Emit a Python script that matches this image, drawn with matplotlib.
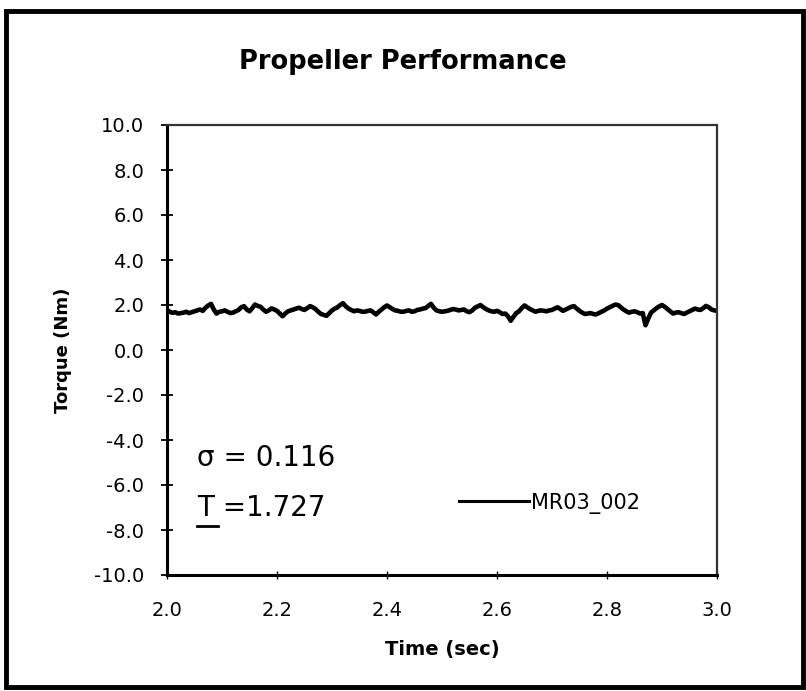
import numpy as np
import matplotlib
matplotlib.use("Agg")
from matplotlib import pyplot as plt
from matplotlib.patches import Rectangle
from matplotlib.lines import Line2D

# torque trace, one value every 0.005 s from 2.000 to 3.000
time_s = [2.0 + 0.005 * k for k in range(201)]
torque = [1.78, 1.70, 1.65, 1.68, 1.62, 1.64, 1.66, 1.70, 1.64, 1.68,
          1.72, 1.76, 1.80, 1.74, 1.88, 1.98, 2.05, 1.80, 1.62, 1.70,
          1.72, 1.76, 1.70, 1.64, 1.66, 1.72, 1.78, 1.90, 1.95, 1.80,
          1.72, 1.86, 2.02, 1.96, 1.92, 1.80, 1.70, 1.76, 1.85, 1.80,
          1.74, 1.62, 1.50, 1.62, 1.72, 1.76, 1.80, 1.84, 1.88, 1.82,
          1.78, 1.86, 1.95, 1.90, 1.82, 1.70, 1.60, 1.56, 1.52, 1.64,
          1.76, 1.84, 1.90, 2.00, 2.08, 1.94, 1.84, 1.78, 1.72, 1.76,
          1.74, 1.70, 1.70, 1.74, 1.76, 1.68, 1.58, 1.70, 1.80, 1.90,
          1.98, 1.90, 1.82, 1.76, 1.74, 1.70, 1.70, 1.74, 1.76, 1.70,
          1.72, 1.78, 1.80, 1.84, 1.86, 1.96, 2.05, 1.88, 1.76, 1.72,
          1.70, 1.72, 1.74, 1.78, 1.82, 1.80, 1.76, 1.78, 1.80, 1.72,
          1.68, 1.76, 1.88, 1.94, 2.00, 1.90, 1.82, 1.76, 1.72, 1.70,
          1.74, 1.68, 1.60, 1.62, 1.50, 1.30, 1.48, 1.64, 1.72, 1.86,
          1.98, 1.90, 1.82, 1.76, 1.70, 1.74, 1.76, 1.74, 1.72, 1.76,
          1.78, 1.84, 1.90, 1.82, 1.74, 1.80, 1.86, 1.92, 1.95, 1.84,
          1.74, 1.66, 1.60, 1.62, 1.64, 1.60, 1.58, 1.64, 1.70, 1.76,
          1.84, 1.90, 1.96, 2.02, 2.00, 1.90, 1.80, 1.72, 1.66, 1.70,
          1.72, 1.68, 1.62, 1.64, 1.10, 1.40, 1.66, 1.76, 1.86, 1.94,
          2.00, 1.92, 1.82, 1.72, 1.62, 1.66, 1.68, 1.64, 1.60, 1.66,
          1.72, 1.78, 1.84, 1.80, 1.78, 1.86, 1.96, 1.90, 1.80, 1.76,
          1.74]

series_name = "MR03_002"
sigma_text = "\u03c3 = 0.116"
mean_text = "T =1.727"
x_ticks = [2.0, 2.2, 2.4, 2.6, 2.8, 3.0]
y_ticks = [-10, -8, -6, -4, -2, 0, 2, 4, 6, 8, 10]

plt.rcParams['font.family'] = ['DejaVu Sans']

W, H = 806, 691
fig = plt.figure(figsize=(W / 100, H / 100), dpi=100)
ax = fig.add_axes([167 / W, 1 - 575 / H, 550 / W, 450 / H])

ax.plot(time_s, torque, color="black", lw=3.3, solid_joinstyle="round",
        label=series_name)

ax.set_xlim(2.0, 3.0)
ax.set_ylim(-10, 10)
ax.set_xticks(x_ticks)
ax.set_xticklabels(["%.1f" % v for v in x_ticks])
ax.set_yticks(y_ticks)
ax.set_yticklabels(["%.1f" % v for v in y_ticks])
ax.tick_params(axis="y", direction="inout", length=9, width=1.3,
               labelsize=14, pad=12)
ax.tick_params(axis="x", direction="inout", length=6, width=1.0,
               labelsize=14, pad=16)

for side in ["left", "bottom"]:
    ax.spines[side].set_linewidth(2.2)
for side in ["top", "right"]:
    ax.spines[side].set_linewidth(1.6)
    ax.spines[side].set_linestyle((0, (1, 1)))
    ax.spines[side].set_color("#333333")

ax.set_xlabel("Time (sec)", fontsize=14, fontweight="bold", labelpad=14)
ax.set_ylabel("Torque (Nm)", fontsize=13, fontweight="bold", labelpad=16)

ax.text(0.055, 0.26, sigma_text, transform=ax.transAxes, fontsize=20,
        ha="left", va="center")
ax.text(0.055, 0.149, mean_text, transform=ax.transAxes, fontsize=20,
        ha="left", va="center")
# underline under the T
ax.add_line(Line2D([0.055, 0.092], [0.108, 0.108], transform=ax.transAxes,
                   color="black", lw=2))

leg = ax.legend(loc="center left", bbox_to_anchor=(0.53, 0.16),
                frameon=False, fontsize=15, handlelength=3.4,
                handletextpad=0.1, borderpad=0, borderaxespad=0)
leg.get_lines()[0].set_linewidth(2.2)

fig.text(0.5, 1 - 62 / H, "Propeller Performance", ha="center",
         va="center", fontsize=18.5, fontweight="bold")

# outer chart border
fig.patches.append(Rectangle((6 / W, 4 / H), 797 / W, 676 / H,
                             transform=fig.transFigure, fill=False,
                             edgecolor="black", lw=3.5))

fig.savefig("out.png", dpi=100)
